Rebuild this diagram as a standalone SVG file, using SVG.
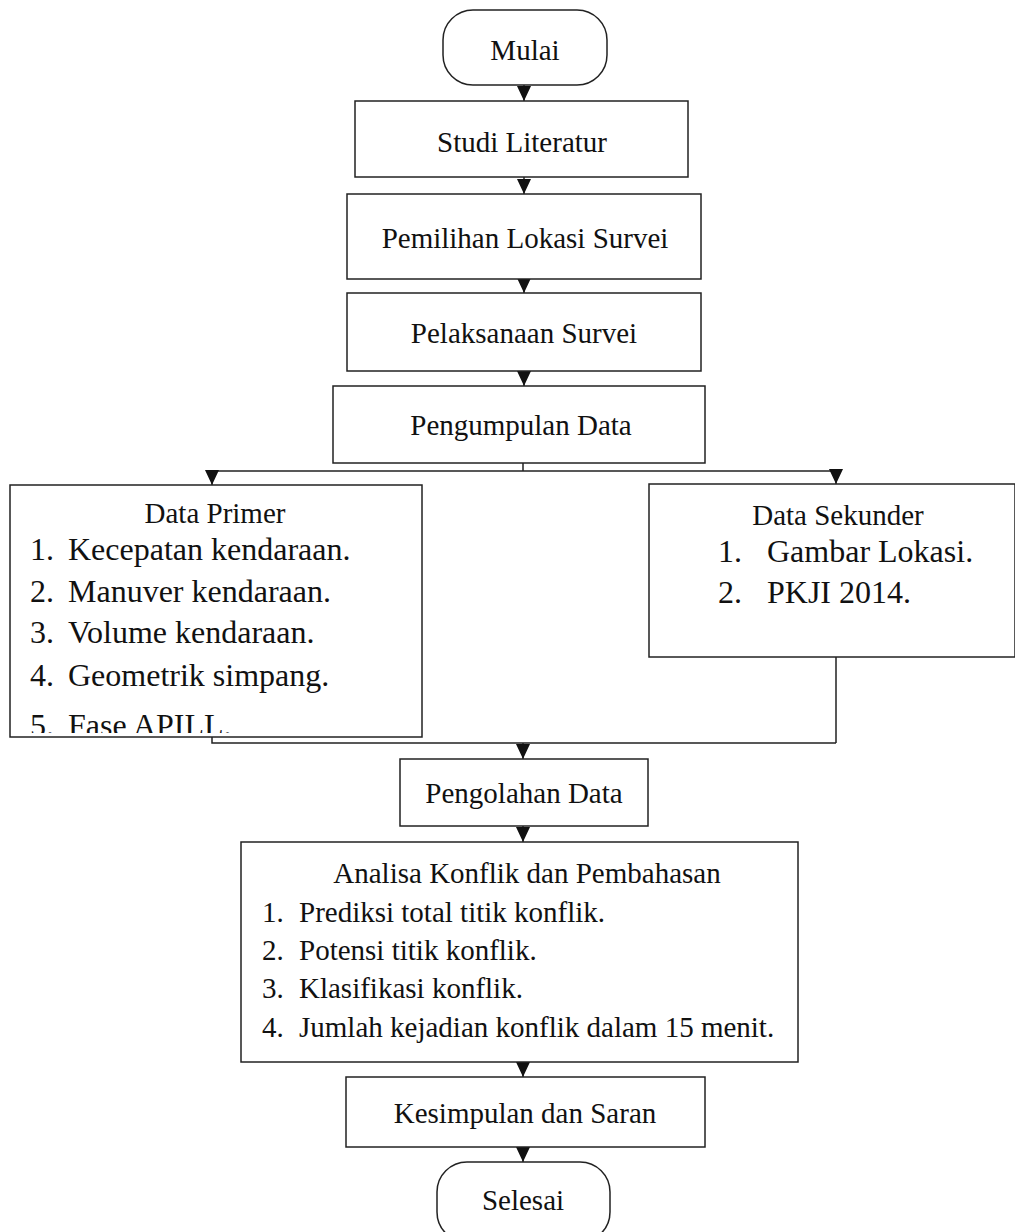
<svg xmlns="http://www.w3.org/2000/svg" width="1015" height="1232" viewBox="0 0 1015 1232">
<style>
.b{fill:#fff;stroke:#222;stroke-width:1.5}
.c{fill:none;stroke:#222;stroke-width:1.5}
text{font-family:"Liberation Serif","Times New Roman",serif;fill:#111}
.t{font-size:29px;text-anchor:middle}
.l{font-size:32px}
.m{font-size:29px}
</style>
<defs>
<marker id="ah" markerUnits="userSpaceOnUse" markerWidth="15" markerHeight="14" refX="15" refY="7" orient="auto" viewBox="0 0 15 14">
<path d="M0,0 L15,7 L0,14 Z" fill="#111"/>
</marker>
<clipPath id="cp"><rect x="10" y="485" width="412" height="248"/></clipPath>
</defs>
<rect width="1015" height="1232" fill="#fff"/>

<g id="connectors">
<path class="c" d="M524,85 V101" marker-end="url(#ah)"/>
<path class="c" d="M524,177 V194" marker-end="url(#ah)"/>
<path class="c" d="M524,279 V293" marker-end="url(#ah)"/>
<path class="c" d="M524,371 V386" marker-end="url(#ah)"/>
<path class="c" d="M523,463 V471 M212,471 H836"/>
<path class="c" d="M212,471 V485" marker-end="url(#ah)"/>
<path class="c" d="M836,471 V484" marker-end="url(#ah)"/>
<path class="c" d="M212,737 V743 H836 M836,657 V743"/>
<path class="c" d="M523,743 V759" marker-end="url(#ah)"/>
<path class="c" d="M523,826 V842" marker-end="url(#ah)"/>
<path class="c" d="M523,1062 V1077" marker-end="url(#ah)"/>
<path class="c" d="M523,1147 V1162" marker-end="url(#ah)"/>
</g>

<g id="mulai">
<rect class="b" x="443" y="10" width="164" height="75" rx="30" ry="30"/>
<text class="t" x="525" y="60">Mulai</text>
</g>
<g id="studi">
<rect class="b" x="355" y="101" width="333" height="76"/>
<text class="t" x="522" y="152">Studi Literatur</text>
</g>
<g id="pemilihan">
<rect class="b" x="347" y="194" width="354" height="85"/>
<text class="t" x="525" y="248">Pemilihan Lokasi Survei</text>
</g>
<g id="pelaksanaan">
<rect class="b" x="347" y="293" width="354" height="78"/>
<text class="t" x="524" y="343">Pelaksanaan Survei</text>
</g>
<g id="pengumpulan">
<rect class="b" x="333" y="386" width="372" height="77"/>
<text class="t" x="521" y="435">Pengumpulan Data</text>
</g>
<g id="data-primer">
<rect class="b" x="10" y="485" width="412" height="252"/>
<text class="t" x="215" y="523">Data Primer</text>
<text class="l" x="30" y="560">1.</text><text class="l" x="68" y="560">Kecepatan kendaraan.</text>
<text class="l" x="30" y="602">2.</text><text class="l" x="68" y="602">Manuver kendaraan.</text>
<text class="l" x="30" y="643">3.</text><text class="l" x="68" y="643">Volume kendaraan.</text>
<text class="l" x="30" y="686">4.</text><text class="l" x="68" y="686">Geometrik simpang.</text>
<g clip-path="url(#cp)">
<text class="l" x="30" y="736">5.</text><text class="l" x="68" y="736">Fase APILL.</text>
</g>
</g>
<g id="data-sekunder">
<rect class="b" x="649" y="484" width="366" height="173"/>
<text class="t" x="838" y="525">Data Sekunder</text>
<text class="l" x="718" y="562">1.</text><text class="l" x="767" y="562">Gambar Lokasi.</text>
<text class="l" x="718" y="603">2.</text><text class="l" x="767" y="603">PKJI 2014.</text>
</g>
<g id="pengolahan">
<rect class="b" x="400" y="759" width="248" height="67"/>
<text class="t" x="524" y="803">Pengolahan Data</text>
</g>
<g id="analisa">
<rect class="b" x="241" y="842" width="557" height="220"/>
<text class="t" x="527" y="883">Analisa Konflik dan Pembahasan</text>
<text class="m" x="262" y="922">1.</text><text class="m" x="299" y="922">Prediksi total titik konflik.</text>
<text class="m" x="262" y="960">2.</text><text class="m" x="299" y="960">Potensi titik konflik.</text>
<text class="m" x="262" y="998">3.</text><text class="m" x="299" y="998">Klasifikasi konflik.</text>
<text class="m" x="262" y="1037">4.</text><text class="m" x="299" y="1037">Jumlah kejadian konflik dalam 15 menit.</text>
</g>
<g id="kesimpulan">
<rect class="b" x="346" y="1077" width="359" height="70"/>
<text class="t" x="525" y="1123">Kesimpulan dan Saran</text>
</g>
<g id="selesai">
<rect class="b" x="437" y="1162" width="173" height="80" rx="30" ry="30"/>
<text class="t" x="523" y="1210">Selesai</text>
</g>
</svg>
